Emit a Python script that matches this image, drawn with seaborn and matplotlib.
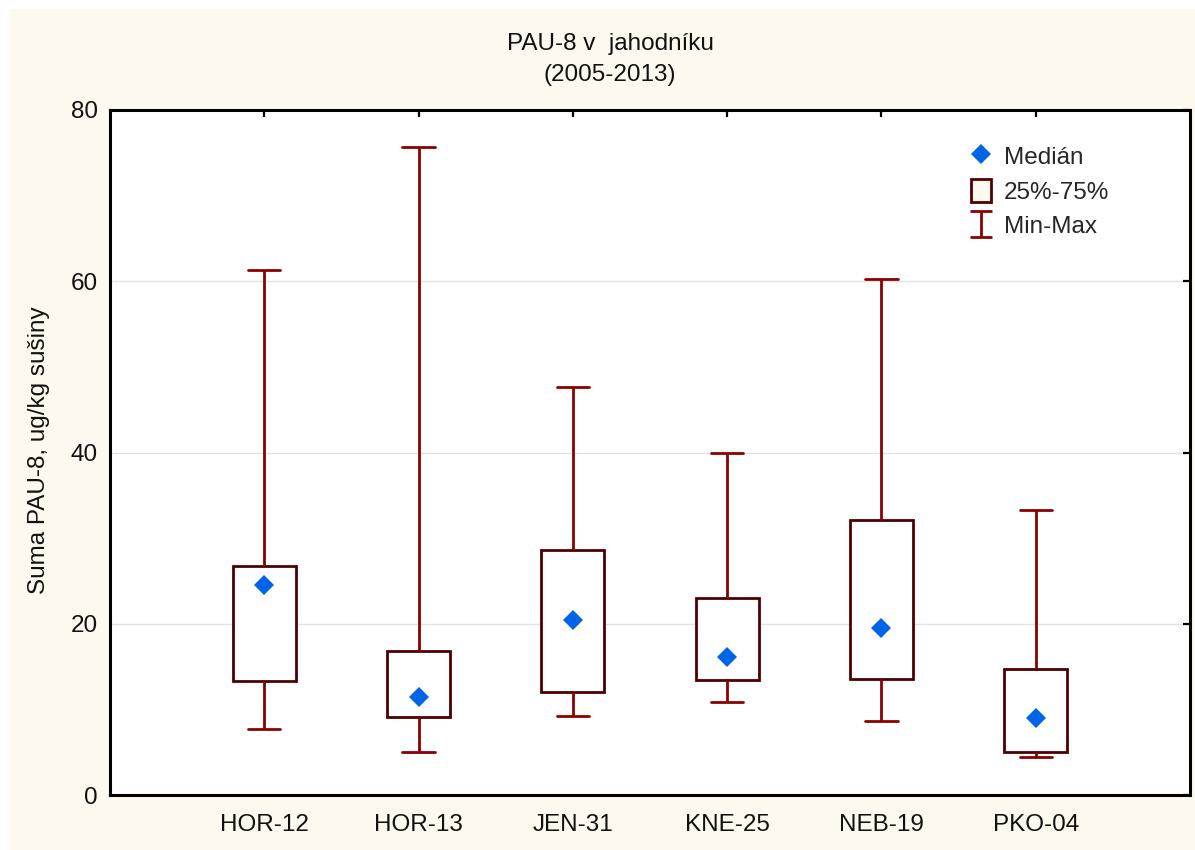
import numpy as np
import pandas as pd
import matplotlib
matplotlib.use("Agg")
import matplotlib.pyplot as plt
from matplotlib.lines import Line2D
from matplotlib.patches import Patch, Rectangle
from matplotlib.path import Path
import seaborn as sns

# Sampling sites and their summary statistics (sum of PAH-8, ug/kg dry matter)
sites = ["HOR-12", "HOR-13", "JEN-31", "KNE-25", "NEB-19", "PKO-04"]
min_vals = [7.7, 5.0, 9.2, 10.9, 8.6, 4.4]
q1_vals = [13.3, 9.1, 12.0, 13.4, 13.5, 5.0]
median_vals = [24.5, 11.4, 20.4, 16.1, 19.5, 9.0]
q3_vals = [26.7, 16.8, 28.6, 23.0, 32.1, 14.7]
max_vals = [61.3, 75.7, 47.6, 39.9, 60.3, 33.3]

y_ticks = [0, 20, 40, 60, 80]

title_line1 = "PAU-8 v  jahodníku"
title_line2 = "(2005-2013)"
y_label = "Suma PAU-8, ug/kg sušiny"
legend_labels = ["Medián", "25%-75%", "Min-Max"]

# Five-number summary per site as long-form data: with whiskers at the
# 0th/100th percentile the box edges fall exactly on Q1/Q3.
rows = []
for s, a, b, c, d, e in zip(sites, min_vals, q1_vals, median_vals, q3_vals, max_vals):
    for v in (a, b, c, d, e):
        rows.append({"site": s, "value": v})
df = pd.DataFrame(rows)

CREAM = "#FEF9EE"
BOX_EDGE = "#4E0000"
WHISKER = "#8B0000"
MEDIAN_BLUE = "#0064E6"
FS = 17.5

sns.set_theme(style="white")
plt.rcParams["font.family"] = ["Liberation Sans", "DejaVu Sans"]
plt.rcParams["font.size"] = FS

fig = plt.figure(figsize=(11.95, 8.5), dpi=100, facecolor="white")
fig.patches.append(Rectangle((10 / 1195, 0), 1 - 10 / 1195, 1 - 9 / 850,
                             transform=fig.transFigure, facecolor=CREAM,
                             edgecolor="none", zorder=-10))
ax = fig.add_axes([110 / 1195, 1 - 795 / 850, 1080 / 1195, 685 / 850])
ax.set_facecolor("white")

sns.boxplot(data=df, x="site", y="value", order=sites, ax=ax,
            whis=(0, 100), width=0.41, color="white", fill=True,
            linecolor=BOX_EDGE, linewidth=2.0, showfliers=False,
            boxprops=dict(edgecolor=BOX_EDGE, facecolor="white", linewidth=2.0),
            whiskerprops=dict(color=WHISKER, linewidth=2.0),
            capprops=dict(color=WHISKER, linewidth=2.0),
            medianprops=dict(visible=False),
            capwidths=0.21)

sns.pointplot(data=df, x="site", y="value", order=sites, ax=ax,
              estimator="median", errorbar=None, color=MEDIAN_BLUE,
              marker="D", linestyle="none", markersize=10,
              markeredgewidth=0)

ax.set_xlim(-1, 6)
ax.set_ylim(0, 80)
ax.set_yticks(y_ticks)
ax.set_xlabel("")
ax.set_ylabel(y_label, fontsize=FS, color="#111111")
ax.yaxis.set_label_coords(-0.0556, 0.5 + (452.5 - 450) / 685)

ax.yaxis.grid(True, color="#E2E2E2", linewidth=1.0)
ax.xaxis.grid(False)
ax.set_axisbelow(True)

for sp in ax.spines.values():
    sp.set_visible(True)
    sp.set_color("black")
    sp.set_linewidth(2.2)

ax.tick_params(axis="both", which="both", direction="in", length=5,
               width=1.6, color="black", top=True, right=True,
               labelsize=FS, labelcolor="#111111")
ax.tick_params(axis="x", pad=14)
ax.tick_params(axis="y", pad=9)

# Title (two centred lines)
fig.text(610 / 1195, 1 - 44 / 850, title_line1, ha="center", va="center",
         fontsize=FS, color="#111111")
fig.text(610 / 1195, 1 - 75 / 850, title_line2, ha="center", va="center",
         fontsize=FS, color="#111111")

# Legend with an I-beam glyph for the range
ibeam = Path([(0, -0.5), (0, 0.5), (-0.42, 0.5), (0.42, 0.5),
              (-0.42, -0.5), (0.42, -0.5)],
             [Path.MOVETO, Path.LINETO, Path.MOVETO, Path.LINETO,
              Path.MOVETO, Path.LINETO])
handles = [
    Line2D([], [], marker="D", linestyle="none", color=MEDIAN_BLUE,
           markersize=10, markeredgewidth=0),
    Patch(facecolor=CREAM, edgecolor=BOX_EDGE, linewidth=2.0),
    Line2D([], [], marker=ibeam, linestyle="none", markersize=19,
           markerfacecolor="none", markeredgecolor=WHISKER,
           markeredgewidth=2.0),
]
ax.legend(handles, legend_labels, loc="upper left",
          bbox_to_anchor=(0.797, 0.95), frameon=False, fontsize=FS,
          handlelength=0.85, handleheight=1.1, handletextpad=0.5,
          labelspacing=0.4, borderpad=0, borderaxespad=0)

fig.savefig("out.png", dpi=100, facecolor=fig.get_facecolor())
